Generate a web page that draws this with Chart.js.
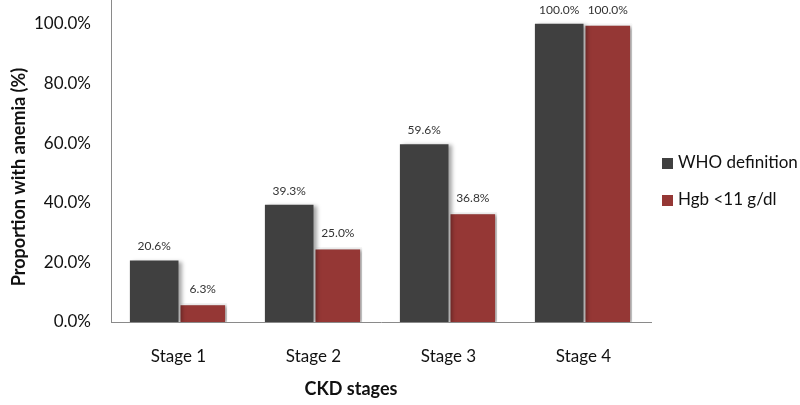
<!DOCTYPE html>
<html>
<head>
<meta charset="utf-8">
<script src="https://cdn.jsdelivr.net/npm/chart.js@4"></script>
<style>
  html, body { margin: 0; padding: 0; background: #fff; }
  #wrap { width: 800px; height: 405px; }
</style>
</head>
<body>
<div id="wrap"><canvas id="anemiaChart"></canvas></div>
<script>
const stages = ["Stage 1", "Stage 2", "Stage 3", "Stage 4"];
const whoDefinition = [20.6, 39.3, 59.6, 100.0];
const hgbBelow11 = [6.3, 25.0, 36.8, 100.0];
const seriesNames = ["WHO definition", "Hgb <11 g/dl"];
const seriesColors = ["#404040", "#953735"];

const FONT = "Lato, 'Open Sans', sans-serif";

// bar shadows, value labels, axis titles and legend
const decorations = {
  id: "decorations",
  beforeDatasetsDraw(chart) {
    const ctx = chart.ctx;
    ctx.save();
    ctx.shadowColor = "rgba(0,0,0,0.35)";
    ctx.shadowBlur = 4;
    ctx.shadowOffsetX = 3;
    ctx.shadowOffsetY = 1;
  },
  afterDatasetsDraw(chart) {
    const ctx = chart.ctx;
    ctx.restore();
    ctx.save();
    ctx.fillStyle = "#333";
    ctx.font = "12px " + FONT;
    ctx.textAlign = "center";
    ctx.textBaseline = "bottom";
    chart.data.datasets.forEach((ds, i) => {
      chart.getDatasetMeta(i).data.forEach((bar, j) => {
        ctx.fillText(ds.data[j].toFixed(1) + "%", bar.x, bar.y - 8);
      });
    });
    ctx.restore();
  },
  afterDraw(chart) {
    const ctx = chart.ctx;
    ctx.save();
    ctx.fillStyle = "#111";
    ctx.font = "bold 18px " + FONT;
    ctx.textAlign = "center";
    ctx.textBaseline = "middle";
    ctx.fillText("CKD stages", 351, 389);
    ctx.translate(19, 177);
    ctx.rotate(-Math.PI / 2);
    ctx.fillText("Proportion with anemia (%)", 0, 0);
    ctx.restore();

    ctx.save();
    ctx.font = "17px " + FONT;
    ctx.textBaseline = "middle";
    seriesNames.forEach((name, i) => {
      const y = 163 + i * 37;
      ctx.fillStyle = seriesColors[i];
      ctx.fillRect(662, y - 5, 11, 11);
      ctx.fillStyle = "#111";
      ctx.fillText(name, 678, y);
    });
    ctx.restore();
  }
};

new Chart(document.getElementById("anemiaChart"), {
  type: "bar",
  data: {
    labels: stages,
    datasets: [
      {
        label: seriesNames[0],
        data: whoDefinition,
        backgroundColor: seriesColors[0],
        borderColor: "#ffffff",
        borderWidth: 0
      },
      {
        label: seriesNames[1],
        data: hgbBelow11,
        backgroundColor: seriesColors[1],
        borderColor: "#ffffff",
        borderWidth: 2
      }
    ]
  },
  options: {
    responsive: true,
    maintainAspectRatio: false,
    animation: false,
    layout: { autoPadding: false, padding: { left: 0, right: 149, top: 0, bottom: 0 } },
    plugins: {
      legend: { display: false },
      tooltip: { enabled: false }
    },
    datasets: {
      bar: { barPercentage: 1.0, categoryPercentage: 0.72 }
    },
    scales: {
      x: {
        grid: { display: false },
        border: { display: true, color: "#8a8a8a", width: 1 },
        ticks: { color: "#111", font: { family: FONT, size: 17 }, padding: 16 },
        afterFit(scale) {
          scale.height = 83;
          scale.paddingLeft = 0;
          scale.paddingRight = 0;
        }
      },
      y: {
        min: 0,
        max: 108,
        grid: { display: false },
        border: { display: true, color: "#8a8a8a", width: 1 },
        ticks: {
          stepSize: 20,
          includeBounds: false,
          color: "#111",
          padding: 12,
          font: { family: FONT, size: 17 },
          callback: v => (v % 20 === 0 ? v.toFixed(1) + "%" : "")
        },
        afterFit(scale) {
          scale.width = 111;
          scale.paddingTop = 0;
          scale.paddingBottom = 0;
        }
      }
    }
  },
  plugins: [decorations]
});
</script>
</body>
</html>
